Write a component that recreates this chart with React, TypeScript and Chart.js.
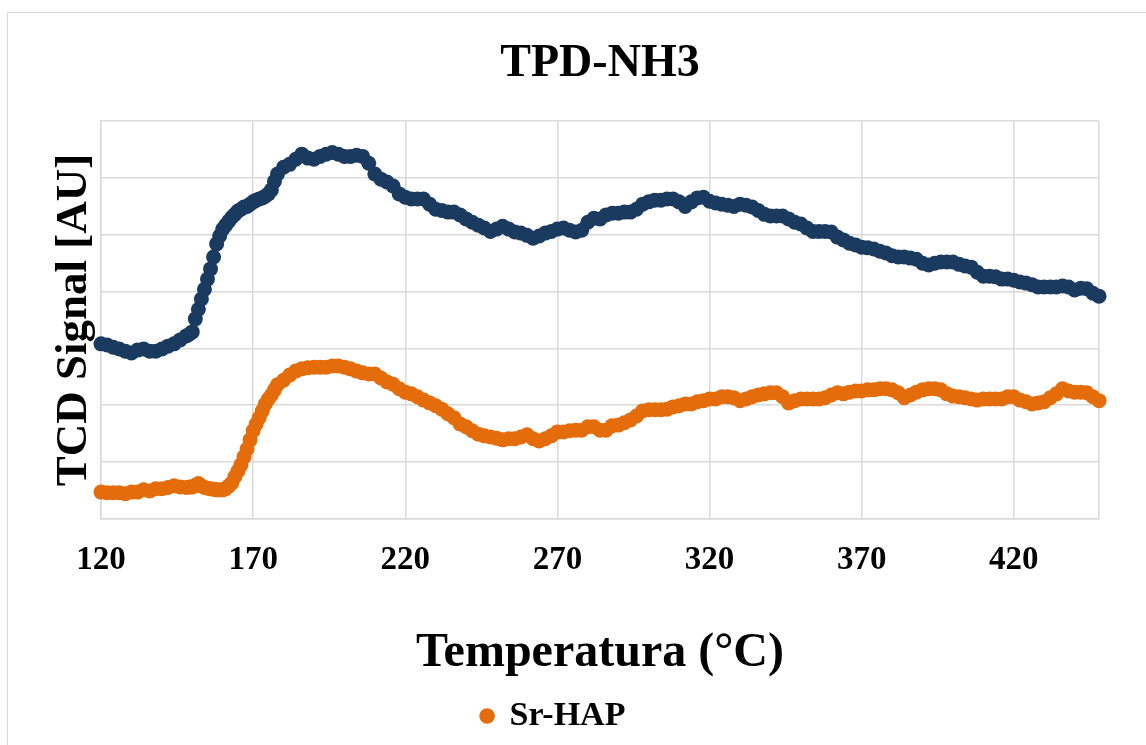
import React, { useEffect, useRef } from 'react';
import { Chart, registerables } from 'chart.js';

Chart.register(...registerables);

// Temperature (°C) of each recorded point
const temperatures = [
  120, 122, 124, 126, 128, 130, 132, 134, 136, 138, 140, 142, 144, 146, 148,
  149, 150, 151, 152, 153, 154, 155, 156, 157, 158, 159, 160, 161, 162, 163,
  164, 165, 166, 167, 168, 169, 170, 171, 172, 173, 174, 175, 176, 177,
  178, 180, 182, 184, 186, 188, 190, 192, 194, 196, 198,
  200, 202, 204, 206, 208, 210, 212, 214, 216, 218,
  220, 222, 224, 226, 228, 230, 232, 234, 236, 238,
  240, 242, 244, 246, 248, 250, 252, 254, 256, 258,
  260, 262, 264, 266, 268, 270, 272, 274, 276, 278,
  280, 282, 284, 286, 288, 290, 292, 294, 296, 298,
  300, 302, 304, 306, 308, 310, 312, 314, 316, 318,
  320, 322, 324, 326, 328, 330, 332, 334, 336, 338,
  340, 342, 344, 346, 348, 350, 352, 354, 356, 358,
  360, 362, 364, 366, 368, 370, 372, 374, 376, 378,
  380, 382, 384, 386, 388, 390, 392, 394, 396, 398,
  400, 402, 404, 406, 408, 410, 412, 414, 416, 418,
  420, 422, 424, 426, 428, 430, 432, 434, 436, 438,
  440, 442, 444, 446, 448,
];

// Upper (navy) TCD signal, arbitrary units
const hapSignal = [
  3.08, 3.06, 3.02, 2.99, 2.95, 2.92, 2.97, 2.99, 2.95, 2.95, 2.99, 3.04, 3.08, 3.15, 3.22,
  3.25, 3.29, 3.52, 3.69, 3.87, 4.04, 4.22, 4.40, 4.61, 4.84, 4.98, 5.10, 5.17, 5.24, 5.31,
  5.36, 5.42, 5.45, 5.49, 5.50, 5.54, 5.58, 5.61, 5.63, 5.65, 5.68, 5.72, 5.79, 5.94,
  6.07, 6.19, 6.24, 6.33, 6.42, 6.35, 6.33, 6.38, 6.42, 6.45, 6.42,
  6.38, 6.38, 6.40, 6.38, 6.26, 6.07, 5.98, 5.93, 5.86, 5.72,
  5.66, 5.63, 5.63, 5.63, 5.54, 5.45, 5.43, 5.40, 5.40, 5.35,
  5.28, 5.22, 5.17, 5.12, 5.06, 5.10, 5.15, 5.10, 5.05, 5.03,
  4.99, 4.94, 4.98, 5.03, 5.06, 5.10, 5.12, 5.08, 5.05, 5.08,
  5.22, 5.29, 5.28, 5.35, 5.38, 5.38, 5.40, 5.40, 5.45, 5.54,
  5.58, 5.61, 5.61, 5.63, 5.63, 5.58, 5.50, 5.58, 5.65, 5.66,
  5.59, 5.56, 5.54, 5.52, 5.50, 5.54, 5.52, 5.49, 5.43, 5.36,
  5.33, 5.33, 5.33, 5.28, 5.22, 5.19, 5.12, 5.06, 5.06, 5.06,
  5.05, 4.96, 4.91, 4.85, 4.82, 4.78, 4.77, 4.75, 4.71, 4.68,
  4.63, 4.61, 4.61, 4.59, 4.57, 4.50, 4.47, 4.50, 4.52, 4.52,
  4.52, 4.48, 4.45, 4.43, 4.34, 4.27, 4.27, 4.26, 4.22, 4.22,
  4.20, 4.17, 4.15, 4.12, 4.08, 4.08, 4.08, 4.08, 4.10, 4.08,
  4.03, 4.06, 4.05, 3.97, 3.92,
];

// Sr-HAP (orange) TCD signal, arbitrary units
const srHapSignal = [
  0.47, 0.46, 0.46, 0.46, 0.44, 0.47, 0.47, 0.51, 0.49, 0.53, 0.53, 0.55, 0.58, 0.56, 0.55,
  0.56, 0.56, 0.59, 0.62, 0.58, 0.55, 0.54, 0.53, 0.52, 0.51, 0.51, 0.51, 0.53, 0.58, 0.63,
  0.74, 0.84, 0.95, 1.09, 1.23, 1.39, 1.55, 1.67, 1.78, 1.90, 2.02, 2.11, 2.18, 2.27,
  2.36, 2.44, 2.53, 2.60, 2.64, 2.66, 2.67, 2.67, 2.67, 2.69, 2.69,
  2.67, 2.64, 2.60, 2.57, 2.55, 2.55, 2.48, 2.41, 2.37, 2.29,
  2.23, 2.20, 2.15, 2.09, 2.04, 1.99, 1.93, 1.85, 1.78, 1.67,
  1.62, 1.55, 1.49, 1.46, 1.44, 1.42, 1.39, 1.41, 1.41, 1.44,
  1.48, 1.41, 1.37, 1.41, 1.46, 1.53, 1.53, 1.55, 1.56, 1.56,
  1.62, 1.62, 1.56, 1.56, 1.64, 1.65, 1.69, 1.74, 1.81, 1.90,
  1.92, 1.92, 1.92, 1.93, 1.97, 1.99, 2.02, 2.02, 2.06, 2.08,
  2.11, 2.11, 2.15, 2.15, 2.13, 2.08, 2.11, 2.15, 2.18, 2.20,
  2.22, 2.22, 2.15, 2.04, 2.08, 2.11, 2.11, 2.11, 2.11, 2.13,
  2.18, 2.22, 2.20, 2.23, 2.25, 2.25, 2.27, 2.27, 2.29, 2.29,
  2.27, 2.22, 2.13, 2.18, 2.23, 2.27, 2.29, 2.29, 2.27, 2.20,
  2.16, 2.15, 2.13, 2.11, 2.09, 2.11, 2.11, 2.11, 2.11, 2.15,
  2.15, 2.09, 2.06, 2.02, 2.04, 2.06, 2.13, 2.20, 2.29, 2.25,
  2.23, 2.23, 2.22, 2.15, 2.08,
];

const xTickLabels = [120, 170, 220, 270, 320, 370, 420];
const xMin = 120;
const xMax = 448;
const yMin = 0;
const yMax = 7;

const NAVY = '#1B3A5F';
const ORANGE = '#E46C0A';
const GRID = '#d9d9d9';
const FONT = "'Liberation Serif', 'Times New Roman', serif";

export default function App() {
  const ref = useRef<HTMLCanvasElement>(null);

  useEffect(() => {
    if (!ref.current) return;
    const chart = new Chart(ref.current, {
      type: 'scatter',
      data: {
        datasets: [
          {
            label: 'HAP',
            data: temperatures.map((t, i) => ({ x: t, y: hapSignal[i] })),
            backgroundColor: NAVY,
            borderColor: NAVY,
            pointRadius: 7.5,
            pointBorderWidth: 0,
            clip: false,
          },
          {
            label: 'Sr-HAP',
            data: temperatures.map((t, i) => ({ x: t, y: srHapSignal[i] })),
            backgroundColor: ORANGE,
            borderColor: ORANGE,
            pointRadius: 7.5,
            pointBorderWidth: 0,
            clip: false,
          },
        ],
      },
      options: {
        responsive: false,
        devicePixelRatio: 1,
        animation: false,
        events: [],
        layout: { padding: { left: 0, right: 48, top: 0, bottom: 3 } },
        plugins: {
          tooltip: { enabled: false },
          title: {
            display: true,
            text: 'TPD-NH3',
            color: '#000',
            fullSize: false,
            font: { family: FONT, size: 46, weight: 'bold' },
            padding: { top: 24, bottom: 29 },
          },
          legend: {
            display: true,
            position: 'bottom',
            labels: {
              filter: (item: any) => item.text === 'Sr-HAP',
              usePointStyle: true,
              pointStyle: 'circle',
              boxWidth: 11,
              boxHeight: 11,
              padding: 10,
              color: '#000',
              font: { family: FONT, size: 34, weight: 'bold' },
            },
          },
        },
        scales: {
          x: {
            type: 'linear',
            min: xMin,
            max: xMax,
            afterBuildTicks: (axis: any) => {
              axis.ticks = [...xTickLabels, xMax].map((v) => ({ value: v }));
            },
            ticks: {
              autoSkip: false,
              maxRotation: 0,
              padding: 22,
              color: '#000',
              font: { family: FONT, size: 33, weight: 'bold' },
              callback: (v: any) => (xTickLabels.includes(Number(v)) ? String(v) : ''),
            },
            grid: { color: GRID, lineWidth: 1.5, drawTicks: false },
            border: { color: GRID, width: 1.5 },
            title: {
              display: true,
              text: 'Temperatura (°C)',
              color: '#000',
              font: { family: FONT, size: 48, weight: 'bold' },
              padding: { top: 22, bottom: 7 },
            },
          },
          y: {
            type: 'linear',
            min: yMin,
            max: yMax,
            ticks: { display: false, stepSize: 1 },
            grid: { color: GRID, lineWidth: 1.5, drawTicks: false },
            border: { color: GRID, width: 1.5 },
            title: {
              display: true,
              text: 'TCD Signal [AU]',
              color: '#000',
              font: { family: FONT, size: 45, weight: 'bold' },
              padding: { top: 39, bottom: 0 },
            },
          },
        },
      },
    } as any);
    return () => chart.destroy();
  }, []);

  return (
    <div
      style={{
        position: 'fixed',
        left: 7,
        top: 12,
        width: 1160,
        height: 760,
        border: '1px solid #d9d9d9',
        background: '#fff',
      }}
    >
      <canvas ref={ref} width={1139} height={733} style={{ display: 'block', width: 1139, height: 733 }} />
    </div>
  );
}
